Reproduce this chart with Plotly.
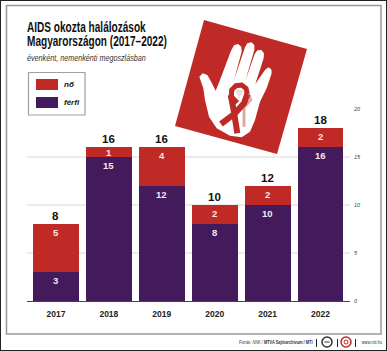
import plotly.graph_objects as go

years = ["2017", "2018", "2019", "2020", "2021", "2022"]
ferfi = [3, 15, 12, 8, 10, 16]
no = [5, 1, 4, 2, 2, 2]
totals = [8, 16, 16, 10, 12, 18]
y_ticks = [0, 5, 10, 15, 20]

RED = "#bf2a27"
PURPLE = "#431a5b"
SANS = "Liberation Sans, Arial, sans-serif"

W, H = 387, 351
L, R, T, B = 27, 350, 109, 301


def px(x):
    return (x - L) / (R - L)


def py(y):
    return (B - y) / (B - T)


def path(pts, close=True):
    s = "M " + " L ".join(f"{px(x):.4f},{py(y):.4f}" for x, y in pts)
    return s + (" Z" if close else "")


def z2(pts):
    return [(160 + a / 3, 20 + b / 3) for a, b in pts]


def shape_path(pts, fill=None, line=None, width=0, close=True):
    return dict(type="path", xref="paper", yref="paper", path=path(pts, close),
                fillcolor=fill if fill else "rgba(0,0,0,0)",
                line=dict(color=line if line else "rgba(0,0,0,0)", width=width))


def rect(x0, y0, x1, y1, fill=None, line=None, width=0, layer="above"):
    return dict(type="rect", xref="paper", yref="paper", x0=px(x0), x1=px(x1), y0=py(y0), y1=py(y1),
                fillcolor=fill if fill else "rgba(0,0,0,0)", layer=layer,
                line=dict(color=line if line else "rgba(0,0,0,0)", width=width))


def note(x, y, text, size, color="#111"):
    return dict(xref="paper", yref="paper", x=px(x), y=py(y), text=text, showarrow=False,
                xanchor="left", yanchor="middle", align="left", borderpad=0,
                font=dict(size=size, color=color, family=SANS))


def value_note(x, y, text, size, color, shift):
    return dict(xref="x", yref="y", x=x, y=y, text=f"<b>{text}</b>", showarrow=False, yshift=shift,
                xanchor="center", yanchor="middle", borderpad=0,
                font=dict(size=size, color=color, family=SANS))


fig = go.Figure()
fig.add_bar(x=years, y=ferfi, name="férfi", marker=dict(color=PURPLE, line=dict(width=0)))
fig.add_bar(x=years, y=no, name="nő", marker=dict(color=RED, line=dict(width=0)))

hand = z2([(118, 170), (128, 160), (142, 165), (155, 188), (167, 212), (180, 180), (213, 92), (222, 76),
           (234, 72), (244, 80), (245, 95), (222, 180), (255, 82), (262, 70), (274, 67), (283, 75), (283, 90),
           (256, 182), (284, 102), (292, 91), (304, 90), (312, 100), (311, 115), (286, 192), (315, 150),
           (325, 142), (334, 148), (335, 160), (320, 205), (300, 245), (285, 300), (270, 335), (245, 352),
           (210, 347), (170, 325), (147, 290), (135, 240), (130, 205)])
ribbon_left = z2([(262, 222), (252, 250), (225, 280), (183, 312)])
ribbon_right = z2([(212, 225), (220, 265), (232, 340)])
loop = z2([(232, 248), (214, 230), (215, 210), (228, 197), (245, 195), (258, 205), (262, 222)])
tri = z2([(224, 208), (250, 210), (238, 235)])
shadow = z2([(266, 222), (272, 240), (252, 262), (252, 320)])

shapes = [
    rect(0, 0, 387, 351, fill=None, line="#222", width=2, layer="above"),
    rect(6.5, 5.5, 381, 334, fill=None, line="#999", width=1.5, layer="below"),
    rect(28.5, 72.5, 85, 115, fill="white", line="#a0a0a0", width=1.2),
    rect(36, 79, 58, 90, fill=RED),
    rect(36, 97, 58, 108, fill=PURPLE),
    shape_path([(204, 20), (307, 49), (277, 154), (175, 126)], fill=RED),
    shape_path(hand, fill="white"),
    shape_path(shadow, line="#dba9a7", width=3, close=False),
    shape_path(loop, line=RED, width=5, close=False),
    shape_path(ribbon_left, line=RED, width=6, close=False),
    shape_path(ribbon_right, line=RED, width=6, close=False),
    shape_path(tri, fill="#f0dcdc"),
    rect(316, 339, 317, 347, fill="#222"),
    rect(337, 339, 338, 347, fill="#222"),
    rect(355, 339, 356, 347, fill="#222"),
    dict(type="circle", xref="paper", yref="paper", x0=px(322), x1=px(332), y0=py(337), y1=py(347),
         line=dict(color="#333", width=1.5), fillcolor="white"),
    rect(324.5, 341.5, 329.5, 342.5, fill="#333"),
    dict(type="circle", xref="paper", yref="paper", x0=px(341), x1=px(351), y0=py(337), y1=py(347),
         line=dict(color=RED, width=1.5), fillcolor="white"),
    dict(type="circle", xref="paper", yref="paper", x0=px(344), x1=px(348), y0=py(340), y1=py(344),
         line=dict(color=RED, width=1), fillcolor="white"),
]

annotations = [
    note(25.5, 27, "<b>AIDS okozta halálozások</b>", 14),
    note(25.5, 41, "<b>Magyarországon (2017–2022)</b>", 14),
    note(25.5, 58, "<i>évenként, nemenkénti megoszlásban</i>", 9, color="#333"),
    note(63, 84.5, "<b><i>nő</i></b>", 8),
    note(63, 102.5, "<b><i>férfi</i></b>", 8),
    note(238, 342, "<i>Forrás: NNK /</i> <b>MTVA Sajtóarchívum / MTI</b>", 6, color="#333"),
    note(360, 342, "www.mti.hu", 6, color="#333"),
]
# width in pixels that each leading note is condensed to (the source face is a narrow one)
note_widths = {0: 119, 1: 140, 2: 119, 5: 74, 6: 21}

px_per_unit = (B - T) / 20
for i, (f, n, t) in enumerate(zip(ferfi, no, totals)):
    annotations.append(value_note(i, f, f, 9.5, "#f6e6f2", -min(8.5, f * px_per_unit / 2)))
    annotations.append(value_note(i, t, n, 9.5, "#f8e6e0", -min(8.5, n * px_per_unit / 2)))
    annotations.append(value_note(i, t, t, 11.5, "#111", 8))

fig.update_layout(
    width=W, height=H, barmode="stack", bargap=0.132, showlegend=False,
    margin=dict(l=L, r=W - R, t=T, b=H - B, pad=0),
    paper_bgcolor="white", plot_bgcolor="white",
    shapes=shapes, annotations=annotations,
    xaxis=dict(type="category", categoryorder="array", categoryarray=years, range=[-0.547, 5.557],
               tickmode="array", tickvals=years, ticktext=years, ticks="", showgrid=False,
               showline=True, linecolor="#444", linewidth=1, zeroline=False,
               tickfont=dict(size=8.5, color="#222", family=SANS, weight=700),
               ticklabelstandoff=5),
    yaxis=dict(range=[0, 20], side="right", tickmode="array", tickvals=y_ticks, ticks="",
               showgrid=True, gridcolor="#ebebeb", gridwidth=1.5, zeroline=False, showline=False,
               tickfont=dict(size=5.5, color="#444", family=SANS, style="italic"), ticklabelstandoff=3),
)

condense = """
document.body.style.margin='0';document.body.style.overflow='hidden';
var widths = %s;
Object.keys(widths).forEach(function (i) {
  var g = document.querySelector('.annotation[data-index="' + i + '"] text');
  if (!g) return;
  var b = g.getBBox();
  var s = widths[i] / b.width;
  g.setAttribute('transform', 'translate(' + b.x + ' 0) scale(' + s + ' 1) translate(' + (-b.x) + ' 0)');
});
""" % str(note_widths).replace("'", '"')
fig.write_html("out.html", config={"displayModeBar": False, "staticPlot": True}, post_script=condense)
